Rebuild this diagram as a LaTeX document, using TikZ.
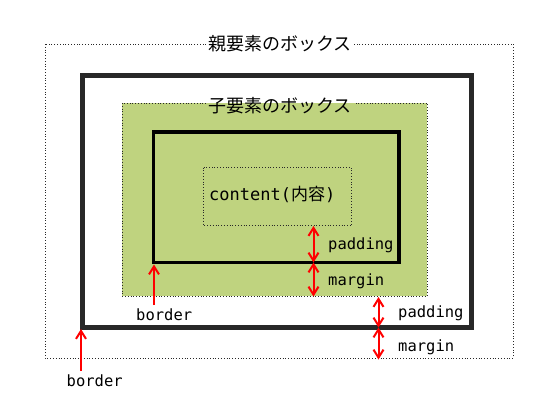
\documentclass[tikz,border=0pt]{standalone}
\usepackage{fontspec}
\setmonofont{DejaVu Sans Mono}
\newfontfamily\jpfont{Noto Sans CJK JP}
\usetikzlibrary{arrows.meta}
\definecolor{boxgreen}{RGB}{191,211,127}
\definecolor{darkline}{RGB}{40,40,40}
\begin{document}
\begin{tikzpicture}[x=1pt,y=-1pt,
  dotbox/.style={draw=darkline, dotted, line width=0.8pt},
  thickbox/.style={draw=darkline, line width=5pt},
  thinbox/.style={draw=black, line width=3.5pt},
  barb/.tip={Straight Barb[length=8pt,width=10pt,line width=2pt]},
  redboth/.style={draw=red, line width=2pt, barb-barb},
  redup/.style={draw=red, line width=2pt, -barb},
  lbl/.style={font=\ttfamily\fontsize{15.5}{16}\selectfont, inner sep=0pt, anchor=base west},
  jptitle/.style={font=\jpfont\fontsize{18}{18}\selectfont, inner sep=2pt}
]
\useasboundingbox (0,0) rectangle (550,400);

% parent box (margin edge)
\draw[dotbox] (45,44) rectangle (513,358);
\node[jptitle, fill=white] (ptitle) at (280,44) {親要素のボックス};

% parent border
\draw[thickbox] (82.5,75) rectangle (471,327);

% child box (margin area)
\fill[boxgreen] (122,103) rectangle (427,296);
\node[jptitle] (ctitle) at (280,106) {子要素のボックス};
\coordinate (gtop) at (122,103);
\draw[dotbox] (ctitle.west |- gtop) -- (122,103) -- (122,296) -- (427,296) -- (427,103) -- (ctitle.east |- gtop);

% child border
\draw[thinbox] (153.5,132) rectangle (399,262.5);

% content box
\draw[dotbox] (203.5,167.5) rectangle (351.5,225.5);
\node[inner sep=0pt, anchor=base west] (content) at (209,200.5)
  {\ttfamily\fontsize{17}{17}\selectfont content(\jpfont 内容\ttfamily)};

% inner padding / margin arrows
\coordinate (ip1) at (313.5,226);
\coordinate (ip2) at (313.5,262.5);
\coordinate (ip3) at (313.5,296.5);
\draw[redboth] (ip1) -- (ip2);
\draw[redboth] (ip2) -- (ip3);
\node[lbl] (ipad) at (328,249) {padding};
\node[lbl] (imar) at (328,285) {margin};

% outer padding / margin arrows
\coordinate (op1) at (378.5,297);
\coordinate (op2) at (378.5,327.5);
\coordinate (op3) at (378.5,359.5);
\draw[redboth] (op1) -- (op2);
\draw[redboth] (op2) -- (op3);
\node[lbl] (opad) at (398,317) {padding};
\node[lbl] (omar) at (398,351.5) {margin};

% border labels and arrows
\node[lbl] (ibord) at (136,320) {border};
\coordinate (ibs) at (154,305);
\coordinate (ibt) at (154,264.5);
\draw[redup] (ibs) -- (ibt);
\node[lbl] (obord) at (66.5,386) {border};
\coordinate (obs) at (81,371);
\coordinate (obt) at (81,329);
\draw[redup] (obs) -- (obt);
\end{tikzpicture}
\end{document}
